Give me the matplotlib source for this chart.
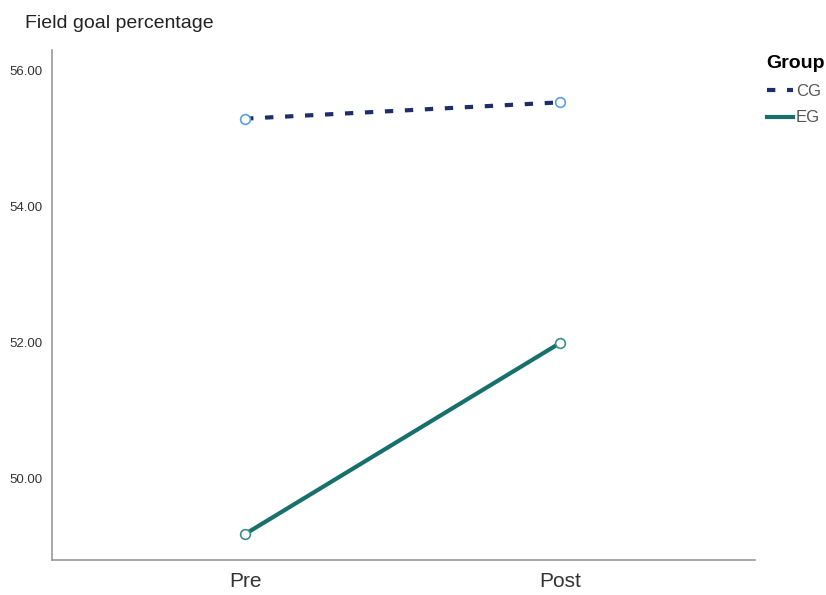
import matplotlib
matplotlib.use("Agg")
import matplotlib.pyplot as plt
from matplotlib.lines import Line2D

plt.rcParams['font.family'] = ['Liberation Sans', 'DejaVu Sans']

times = ["Pre", "Post"]
cg = [55.29, 55.53]
eg = [49.18, 51.99]
yticks = [50.0, 52.0, 54.0, 56.0]

CG_COL = '#1f2d6b'
EG_COL = '#17706c'
DASH = (0, (2.0, 2.8))

fig = plt.figure(figsize=(8.26, 5.95), dpi=100)
ax = fig.add_axes([0.063, 0.059, 0.851, 0.857])

x = list(range(len(times)))
ax.plot(x, cg, color=CG_COL, lw=3, ls=DASH, zorder=2)
ax.plot(x, cg, ls='none', marker='o', ms=7, mfc='white', mec='#5aa0e0', mew=1.2, zorder=3)
ax.plot(x, eg, color=EG_COL, lw=3, zorder=2)
ax.plot(x, eg, ls='none', marker='o', ms=7, mfc='white', mec='#3a8f8a', mew=1.2, zorder=3)

ax.set_xlim(-0.613, 1.619)
ax.set_ylim(48.8, 56.3)
ax.set_xticks(x)
ax.set_xticklabels(times, fontsize=15, color='#333333')
ax.set_yticks(yticks)
ax.set_yticklabels([f"{v:.2f}" for v in yticks], fontsize=9.5, color='#333333')
ax.tick_params(length=0, pad=7)
ax.tick_params(axis='x', pad=9)
for s in ['top', 'right']:
    ax.spines[s].set_visible(False)
for s in ['left', 'bottom']:
    ax.spines[s].set_color('#999999')
    ax.spines[s].set_linewidth(1.2)

fig.text(0.030, 0.960, "Field goal percentage", fontsize=14, color='#222222', va='center', ha='left')

handles = [Line2D([0], [0], color=CG_COL, lw=3, ls=DASH),
           Line2D([0], [0], color=EG_COL, lw=3)]
leg = fig.legend(handles, ["CG", "EG"], title="Group", loc='upper left',
                 bbox_to_anchor=(0.914, 0.927), frameon=False, fontsize=12,
                 handlelength=1.6, handletextpad=0.15, labelspacing=0.7,
                 borderpad=0.2, title_fontproperties={'weight': 'bold', 'size': 14})
leg._legend_box.align = 'left'
for t in leg.get_texts():
    t.set_color('#555555')

fig.savefig("out.png", dpi=100, facecolor='white')
